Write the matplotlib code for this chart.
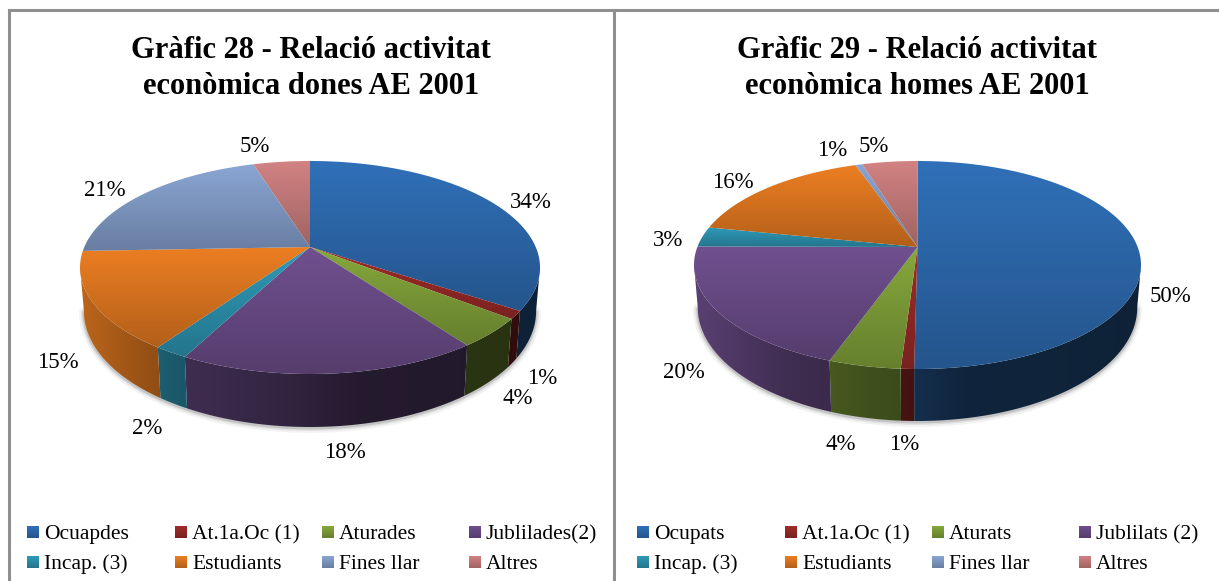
import numpy as np
import matplotlib
matplotlib.use("Agg")
import matplotlib.pyplot as plt
from matplotlib.patches import Polygon

plt.rcParams['font.family'] = ['Liberation Serif', 'DejaVu Serif']

### values, labels are the rounded ones
dones_names = ["Ocuapdes", "At.1a.Oc (1)", "Aturades", "Jublilades(2)", "Incap. (3)", "Estudiants", "Fines llar", "Altres"]
homes_names = ["Ocupats", "At.1a.Oc (1)", "Aturats", "Jublilats (2)", "Incap. (3)", "Estudiants", "Fines llar", "Altres"]
dones_values = [34.4, 1.2, 4.4, 17.6, 2.0, 14.8, 20.8, 4.8]
homes_values = [50.0, 0.8, 4.4, 19.6, 3.1, 16.4, 0.6, 4.7]
dones_title = "Gràfic 28 - Relació activitat\neconòmica dones AE 2001"
homes_title = "Gràfic 29 - Relació activitat\neconòmica homes AE 2001"

colors = ["#3070b8", "#a02c2a", "#86a83c", "#70508f", "#2f9ab8", "#ec7e22", "#8aa6d4", "#d28282"]
frame = "#8f8f8f"

W, H = 1219, 581


def gradient(ax, poly, rgb_rows, vertical=True):
    """fills poly with a gradient, clipped to the polygon"""
    x0, y0 = poly.min(axis=0)
    x1, y1 = poly.max(axis=0)
    img = rgb_rows[:, None, :] if vertical else rgb_rows[None, :, :]
    im = ax.imshow(img, extent=(x0, x1, y1, y0), aspect='auto', interpolation='bilinear', zorder=2)
    patch = Polygon(poly, closed=True, transform=ax.transData, facecolor='none', edgecolor='none')
    ax.add_patch(patch)
    im.set_clip_path(patch)
    return im


def top_grad(col, n=64, dark=0.76):
    base = np.array(matplotlib.colors.to_rgb(col))
    return np.array([base * (1 - (1 - dark) * t) for t in np.linspace(0, 1, n)])


def wall_shade(xnorm):
    return np.interp(xnorm, [0, 0.2, 0.45, 0.6, 1], [0.80, 0.58, 0.45, 0.33, 0.30])


def rim(theta, cx, cy, rx, far, near):
    ## perspective circle: theta clockwise from the top
    k = (near - far) / (near + far)
    hh = near * (1 - k)
    aa = rx * np.sqrt(1 - k * k)
    u, v = np.sin(theta), -np.cos(theta)
    w = 1 - k * v
    return cx + aa * u / w, cy + hh * v / w


def pie3d(ax, values, cx, cy, rx, far, near, depth):
    vals = np.array(values, dtype=float)
    edges = np.concatenate(([0], np.cumsum(vals))) / vals.sum() * 2 * np.pi

    fine = np.linspace(0, 2 * np.pi, 1441)
    xr, yr = rim(fine, cx, cy, rx, far, near)
    th_r, th_l = fine[np.argmax(xr)], fine[np.argmin(xr)]

    def bottom(x, y):
        return cx + (x - cx) * 0.983, y + depth * (0.79 + 0.21 * (y - cy) / near)

    ## shadow under the wall
    th = np.linspace(th_r, th_l, 300)
    xs, ys = rim(th, cx, cy, rx, far, near)
    xb, yb = bottom(xs, ys)
    for lw, al in [(7, 0.05), (4, 0.08), (2, 0.12)]:
        ax.plot(xb, yb + 1, color='black', lw=lw, alpha=al, zorder=1, solid_capstyle='round')

    ## walls first, the top goes over them
    for i, col in enumerate(colors):
        a, b = max(edges[i], th_r), min(edges[i + 1], th_l)
        if b <= a:
            continue
        th = np.linspace(a, b, 120)
        xs, ys = rim(th, cx, cy, rx, far, near)
        xb, yb = bottom(xs, ys)
        poly = np.column_stack((np.r_[xs, xb[::-1]], np.r_[ys, yb[::-1]]))
        xx = np.linspace(poly[:, 0].min(), poly[:, 0].max(), 64)
        base = np.array(matplotlib.colors.to_rgb(col))
        shade = wall_shade((xx - (cx - rx)) / (2 * rx))
        gradient(ax, poly, np.outer(shade, base), vertical=False)

    for i, col in enumerate(colors):
        th = np.linspace(edges[i], edges[i + 1], 200)
        xs, ys = rim(th, cx, cy, rx, far, near)
        poly = np.column_stack((np.r_[cx, xs], np.r_[cy, ys]))
        gradient(ax, poly, top_grad(col))


def draw_panel(ax, title, title_x, names, values, pie_geo, label_xy, swatch_x, text_dx):
    pie3d(ax, values, *pie_geo)
    ax.text(title_x, 68.5, title, ha='center', va='center', fontsize=22, fontweight='bold',
            linespacing=1.36, color='black', zorder=5)
    for v, (lx, ly) in zip(values, label_xy):
        ax.text(lx, ly + 2, "%.0f%%" % v, ha='center', va='center', fontsize=16.5, color='black', zorder=5)
    for i, name in enumerate(names):
        row, col = i // 4, i % 4
        sy = 526 + 30 * row
        sw = np.array([[swatch_x[col], sy], [swatch_x[col] + 12, sy],
                       [swatch_x[col] + 12, sy + 12], [swatch_x[col], sy + 12]], dtype=float)
        gradient(ax, sw, top_grad(colors[i]))
        ax.text(swatch_x[col] + text_dx, sy + 13, name, ha='left', va='baseline', fontsize=15.5, color='black', zorder=5)


fig = plt.figure(figsize=(W / 100, H / 100), dpi=100)
ax = fig.add_axes([0, 0, 1, 1])

draw_panel(ax, dones_title, 311, dones_names, dones_values,
           (310, 247, 230, 86, 127, 53),
           [(531, 200), (542, 376), (518, 397), (345, 451), (147, 427), (58, 361), (105, 188), (255, 145)],
           [27, 175, 322, 469], 17)
draw_panel(ax, homes_title, 917, homes_names, homes_values,
           (917.5, 247, 223.5, 86, 122, 52),
           [(1170, 295), (904, 443), (841, 442), (684, 371), (668, 238), (733, 180), (832, 148), (874, 145)],
           [637, 785, 932, 1079], 17)

## frame of the two panels
ax.plot([9, 9], [H, 10], color=frame, lw=2.2, zorder=6)
ax.plot([9, W], [10, 10], color=frame, lw=2.2, zorder=6)
ax.plot([614, 614], [H, 10], color=frame, lw=2.2, zorder=6)

ax.set_xlim(0, W)
ax.set_ylim(H, 0)
ax.axis('off')
fig.savefig("out.png", dpi=100)
